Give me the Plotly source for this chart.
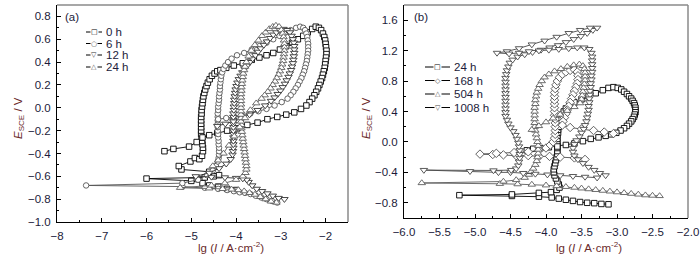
import plotly.graph_objects as go

# ---------------- Panel (a) data: (lg I, E) ----------------
A_0H = [(-4.00,-0.72),(-4.20,-0.71),(-4.40,-0.69),(-4.60,-0.68),(-4.75,-0.66),(-5.00,-0.64),(-6.00,-0.62),
        (-4.70,-0.61),(-4.50,-0.60),(-4.38,-0.59),(-4.60,-0.56),(-5.22,-0.54),(-5.28,-0.51),(-5.02,-0.47),(-4.92,-0.44),
        (-4.82,-0.45),(-4.76,-0.42),(-4.74,-0.38),
        (-4.74,-0.35),(-4.75,-0.32),(-4.76,-0.29),(-4.77,-0.26),(-4.78,-0.23),(-4.78,-0.20),(-4.78,-0.17),(-4.78,-0.14),
        (-4.78,-0.11),(-4.78,-0.08),(-4.77,-0.05),(-4.77,-0.02),(-4.76,0.01),(-4.75,0.04),(-4.74,0.07),(-4.73,0.10),
        (-4.71,0.13),(-4.69,0.16),(-4.66,0.19),(-4.63,0.22),(-4.59,0.25),(-4.54,0.28),(-4.48,0.30),(-4.42,0.32),(-4.35,0.33),
        (-4.22,0.35),(-4.05,0.37),(-3.85,0.39),(-3.65,0.42),(-3.48,0.44),(-3.32,0.46),(-3.17,0.48),(-3.02,0.51),(-2.88,0.54),
        (-2.75,0.57),(-2.62,0.60),(-2.50,0.63),(-2.40,0.66),(-2.30,0.69),(-2.22,0.71),
        (-2.15,0.70),(-2.10,0.68),(-2.06,0.65),(-2.03,0.62),(-2.01,0.59),(-2.00,0.56),(-1.99,0.53),(-1.98,0.50),(-1.98,0.47),
        (-1.99,0.44),(-2.00,0.41),(-2.01,0.38),(-2.02,0.35),(-2.04,0.32),(-2.06,0.29),(-2.08,0.26),(-2.11,0.23),(-2.14,0.20),
        (-2.17,0.17),(-2.21,0.14),(-2.25,0.11),(-2.30,0.08),(-2.36,0.05),(-2.43,0.02),
        (-2.55,-0.01),(-2.70,-0.04),(-2.88,-0.06),(-3.08,-0.08),(-3.30,-0.10),(-3.52,-0.13),(-3.75,-0.15),(-3.98,-0.18),
        (-4.20,-0.20),(-4.42,-0.22),(-4.60,-0.24),(-4.75,-0.26),(-4.88,-0.30),(-5.05,-0.34),(-5.40,-0.36),(-5.60,-0.38)]

A_6H = [(-3.08,-0.83),(-3.20,-0.815),(-3.32,-0.80),(-3.44,-0.785),(-3.56,-0.77),(-3.68,-0.755),(-3.80,-0.745),(-3.92,-0.74),
        (-4.05,-0.73),(-4.20,-0.72),(-4.40,-0.71),(-4.70,-0.70),(-5.20,-0.69),(-7.35,-0.68),
        (-5.20,-0.66),(-4.85,-0.63),(-4.65,-0.59),(-4.52,-0.55),(-4.45,-0.51),(-4.41,-0.47),
        (-4.39,-0.44),(-4.38,-0.41),(-4.38,-0.38),(-4.38,-0.35),(-4.39,-0.32),(-4.39,-0.29),(-4.40,-0.26),(-4.40,-0.23),
        (-4.41,-0.20),(-4.41,-0.17),(-4.41,-0.14),(-4.41,-0.11),(-4.41,-0.08),(-4.41,-0.05),(-4.40,-0.02),(-4.40,0.01),
        (-4.39,0.04),(-4.38,0.07),(-4.38,0.10),(-4.37,0.13),(-4.36,0.16),(-4.36,0.19),(-4.35,0.22),(-4.34,0.25),(-4.33,0.28),
        (-4.31,0.31),(-4.28,0.34),(-4.24,0.37),(-4.18,0.40),(-4.10,0.43),
        (-3.98,0.46),(-3.82,0.48),(-3.65,0.51),(-3.48,0.54),(-3.32,0.57),(-3.17,0.60),(-3.03,0.63),(-2.90,0.66),(-2.78,0.68),
        (-2.66,0.70),(-2.57,0.71),
        (-2.50,0.70),(-2.46,0.68),(-2.43,0.65),(-2.41,0.62),(-2.40,0.59),(-2.39,0.56),(-2.39,0.53),(-2.39,0.50),(-2.40,0.47),
        (-2.41,0.44),(-2.42,0.41),(-2.44,0.38),(-2.46,0.35),(-2.48,0.32),(-2.51,0.29),(-2.54,0.26),(-2.58,0.23),(-2.62,0.20),
        (-2.67,0.17),(-2.72,0.14),(-2.78,0.11),(-2.85,0.08),
        (-2.98,0.05),(-3.14,0.02),(-3.32,-0.01),(-3.50,-0.03),(-3.68,-0.05),(-3.86,-0.07),(-4.04,-0.08),(-4.22,-0.09),(-4.40,-0.10)]

A_12H = [(-2.92,-0.80),(-3.05,-0.79),(-3.18,-0.77),(-3.30,-0.75),(-3.42,-0.73),(-3.54,-0.71),(-3.64,-0.68),(-3.72,-0.65),
         (-3.76,-0.63),(-3.85,-0.62),(-4.00,-0.615),(-4.25,-0.61),(-4.55,-0.605),(-4.90,-0.60),
         (-4.60,-0.57),(-4.38,-0.53),(-4.22,-0.49),(-4.12,-0.45),(-4.08,-0.41),
         (-4.07,-0.38),(-4.06,-0.35),(-4.06,-0.32),(-4.06,-0.29),(-4.06,-0.26),(-4.06,-0.23),(-4.06,-0.20),(-4.06,-0.17),
         (-4.06,-0.14),(-4.06,-0.11),(-4.06,-0.08),(-4.06,-0.05),(-4.05,-0.02),(-4.05,0.01),(-4.04,0.04),(-4.04,0.07),
         (-4.03,0.10),(-4.02,0.13),(-4.01,0.16),(-3.99,0.19),(-3.97,0.22),(-3.94,0.25),(-3.90,0.28),(-3.86,0.31),(-3.81,0.34),
         (-3.75,0.37),(-3.69,0.40),(-3.63,0.43),(-3.57,0.46),(-3.51,0.49),(-3.45,0.52),(-3.38,0.55),(-3.31,0.58),(-3.24,0.61),
         (-3.17,0.64),(-3.10,0.66),(-3.02,0.68),(-2.94,0.69),
         (-2.86,0.68),(-2.80,0.66),(-2.76,0.63),(-2.73,0.60),(-2.71,0.57),(-2.70,0.54),(-2.70,0.51),(-2.70,0.48),(-2.71,0.45),
         (-2.72,0.42),(-2.73,0.39),(-2.75,0.36),(-2.77,0.33),(-2.80,0.30),(-2.83,0.27),(-2.87,0.24),(-2.91,0.21),(-2.96,0.18),
         (-3.01,0.15),(-3.07,0.12),(-3.14,0.09),(-3.22,0.06),
         (-3.35,0.02),(-3.52,-0.02),(-3.70,-0.06),(-3.88,-0.09),(-4.06,-0.12),(-4.24,-0.14),(-4.42,-0.16)]

A_24H = [(-3.10,-0.83),(-3.22,-0.82),(-3.34,-0.80),(-3.46,-0.78),(-3.58,-0.76),(-3.70,-0.745),(-3.82,-0.73),(-3.95,-0.72),
         (-4.10,-0.715),(-4.30,-0.71),(-4.60,-0.705),(-5.25,-0.70),
         (-4.55,-0.68),(-4.25,-0.66),(-4.00,-0.63),(-3.85,-0.60),(-3.79,-0.57),(-3.77,-0.54),
         (-3.77,-0.51),(-3.78,-0.48),(-3.79,-0.45),(-3.80,-0.42),(-3.81,-0.39),(-3.82,-0.36),(-3.83,-0.33),(-3.84,-0.30),
         (-3.85,-0.27),(-3.86,-0.24),(-3.87,-0.21),(-3.88,-0.18),(-3.88,-0.15),(-3.89,-0.12),(-3.89,-0.09),(-3.89,-0.06),
         (-3.89,-0.03),(-3.89,0.00),(-3.89,0.03),(-3.89,0.06),(-3.89,0.09),(-3.89,0.12),(-3.88,0.15),(-3.88,0.18),(-3.87,0.21),
         (-3.86,0.24),(-3.85,0.27),(-3.84,0.30),(-3.82,0.33),(-3.80,0.36),(-3.77,0.40),(-3.72,0.45),(-3.66,0.50),(-3.58,0.55),
         (-3.50,0.59),(-3.42,0.63),(-3.34,0.66),(-3.26,0.69),(-3.18,0.71),(-3.11,0.72),
         (-3.04,0.71),(-2.99,0.68),(-2.96,0.65),(-2.94,0.62),(-2.93,0.59),(-2.92,0.56),(-2.92,0.53),(-2.92,0.50),(-2.93,0.47),
         (-2.94,0.44),(-2.95,0.41),(-2.97,0.38),(-2.99,0.35),(-3.02,0.32),(-3.05,0.29),(-3.09,0.26),(-3.13,0.23),(-3.18,0.20),
         (-3.23,0.17),(-3.29,0.14),(-3.36,0.11),(-3.43,0.08),
         (-3.55,0.04),(-3.68,-0.02),(-3.80,-0.09),(-3.92,-0.17),(-4.04,-0.25),(-4.16,-0.33),(-4.28,-0.40),(-4.40,-0.46),(-4.52,-0.51)]

# ---------------- Panel (b) data ----------------
B_24H = [(-3.12,-0.82),(-3.22,-0.815),(-3.32,-0.805),(-3.42,-0.80),(-3.52,-0.79),(-3.62,-0.775),(-3.72,-0.76),(-3.82,-0.745),
         (-3.92,-0.73),(-4.10,-0.72),(-4.48,-0.71),(-5.22,-0.70),
         (-4.48,-0.69),(-4.10,-0.67),(-3.93,-0.66),(-3.85,-0.63),(-3.81,-0.60),
         (-3.82,-0.56),(-3.84,-0.52),(-3.86,-0.48),(-3.88,-0.44),(-3.89,-0.40),(-3.89,-0.36),(-3.88,-0.32),(-3.87,-0.28),
         (-3.86,-0.24),(-3.85,-0.20),(-3.84,-0.16),(-3.84,-0.12),(-3.84,-0.08),(-3.84,-0.04),(-3.84,0.00),(-3.84,0.04),
         (-3.84,0.08),(-3.83,0.12),(-3.83,0.16),(-3.82,0.20),(-3.81,0.24),(-3.80,0.28),(-3.79,0.32),(-3.77,0.36),(-3.75,0.40),
         (-3.72,0.44),(-3.67,0.48),(-3.60,0.52),
         (-3.50,0.56),(-3.40,0.60),(-3.30,0.64),(-3.20,0.68),(-3.12,0.71),
         (-3.05,0.72),(-2.99,0.71),(-2.94,0.69),(-2.90,0.66),(-2.86,0.63),(-2.83,0.60),(-2.80,0.57),(-2.78,0.54),(-2.76,0.51),
         (-2.75,0.48),(-2.74,0.45),(-2.74,0.42),(-2.74,0.39),(-2.75,0.36),(-2.76,0.33),(-2.78,0.30),(-2.80,0.27),(-2.83,0.24),
         (-2.86,0.21),(-2.90,0.18),(-2.95,0.15),(-3.01,0.12),(-3.08,0.10),(-3.16,0.08),
         (-3.26,0.06),(-3.37,0.04),(-3.48,0.01),(-3.60,-0.02),(-3.72,-0.04),(-3.84,-0.06),(-3.96,-0.07),(-4.08,-0.08),
         (-4.18,-0.09),(-4.27,-0.11)]

B_168H = [(-3.45,-0.23),(-3.60,-0.21),(-3.80,-0.20),(-3.95,-0.19),(-4.10,-0.19),(-4.25,-0.18),(-4.42,-0.18),(-4.60,-0.17),
          (-4.75,-0.165),(-4.93,-0.16),
          (-4.70,-0.15),(-4.45,-0.14),(-4.25,-0.13),(-4.10,-0.11),(-4.00,-0.08),(-3.94,-0.04),
          (-3.90,0.00),(-3.88,0.05),(-3.87,0.10),(-3.87,0.15),(-3.87,0.20),(-3.87,0.25),(-3.87,0.30),(-3.88,0.35),(-3.88,0.40),
          (-3.88,0.45),(-3.88,0.50),(-3.88,0.55),(-3.88,0.60),(-3.88,0.65),(-3.87,0.70),(-3.86,0.75),(-3.84,0.80),(-3.81,0.85),
          (-3.77,0.89),(-3.72,0.92),(-3.66,0.94),(-3.60,0.95),
          (-3.56,0.92),(-3.55,0.87),(-3.55,0.82),(-3.56,0.77),(-3.58,0.72),(-3.60,0.67),(-3.62,0.62),(-3.64,0.57),(-3.66,0.52),
          (-3.68,0.47),(-3.70,0.42),(-3.72,0.37),(-3.74,0.32),(-3.76,0.27),(-3.77,0.22),
          (-3.66,0.19),(-3.50,0.17),(-3.33,0.15),(-3.18,0.13),(-3.05,0.11)]

B_504H = [(-2.40,-0.71),(-2.50,-0.705),(-2.60,-0.70),(-2.70,-0.69),(-2.80,-0.68),(-2.90,-0.67),(-3.00,-0.66),(-3.10,-0.65),
          (-3.20,-0.64),(-3.30,-0.63),(-3.40,-0.62),(-3.50,-0.61),(-3.60,-0.60),(-3.72,-0.59),(-3.85,-0.58),(-4.00,-0.57),
          (-4.20,-0.56),(-4.40,-0.555),(-4.65,-0.55),(-5.75,-0.54),
          (-4.60,-0.52),(-4.42,-0.50),(-4.30,-0.47),(-4.24,-0.43),(-4.21,-0.39),
          (-4.18,-0.35),(-4.15,-0.30),(-4.13,-0.25),(-4.12,-0.20),(-4.11,-0.15),(-4.11,-0.10),(-4.11,-0.05),(-4.12,0.00),
          (-4.13,0.05),(-4.14,0.10),(-4.15,0.15),(-4.16,0.20),(-4.16,0.25),(-4.16,0.30),(-4.16,0.35),(-4.16,0.40),(-4.16,0.45),
          (-4.15,0.50),(-4.15,0.55),(-4.14,0.60),(-4.13,0.65),(-4.11,0.70),(-4.09,0.75),(-4.06,0.80),(-4.02,0.85),(-3.96,0.89),
          (-3.88,0.93),(-3.79,0.96),(-3.70,0.99),(-3.61,1.01),(-3.53,1.02),
          (-3.48,1.00),(-3.46,0.96),(-3.45,0.91),(-3.45,0.86),(-3.45,0.81),(-3.46,0.76),(-3.47,0.71),(-3.48,0.66),(-3.49,0.61),
          (-3.50,0.56),(-3.52,0.51),
          (-3.60,0.46),(-3.70,0.41),(-3.80,0.36),(-3.90,0.31),(-4.00,0.26),(-4.10,0.21),(-4.20,0.16)]

B_1008H = [(-3.28,-0.47),(-3.45,-0.46),(-3.62,-0.45),(-3.80,-0.44),(-3.98,-0.43),(-4.15,-0.42),(-4.32,-0.41),(-4.50,-0.40),
           (-4.67,-0.40),(-5.07,-0.385),(-5.72,-0.37),
           (-4.74,-0.375),(-4.49,-0.37),(-4.42,-0.35),
           (-4.39,-0.31),(-4.38,-0.26),(-4.37,-0.21),(-4.37,-0.16),(-4.37,-0.11),(-4.38,-0.06),(-4.39,-0.01),(-4.41,0.04),
           (-4.43,0.09),(-4.46,0.14),(-4.50,0.19),(-4.53,0.24),(-4.55,0.29),(-4.57,0.34),(-4.57,0.39),(-4.57,0.44),(-4.57,0.49),
           (-4.57,0.54),(-4.57,0.59),(-4.57,0.64),(-4.57,0.69),(-4.57,0.74),(-4.57,0.79),(-4.57,0.84),(-4.56,0.89),(-4.55,0.94),
           (-4.53,0.99),(-4.51,1.04),(-4.47,1.08),
           (-4.40,1.12),(-4.30,1.15),(-4.19,1.18),(-4.07,1.21),(-3.95,1.24),(-3.83,1.27),(-3.72,1.31),(-3.61,1.35),(-3.51,1.39),
           (-3.42,1.43),(-3.34,1.47),(-3.28,1.50),
           (-3.38,1.50),(-3.52,1.47),(-3.68,1.43),(-3.85,1.38),(-4.02,1.33),(-4.20,1.28),(-4.38,1.23),(-4.55,1.19),(-4.69,1.17),
           (-4.52,1.16),(-4.38,1.17),(-4.24,1.19),(-4.10,1.20),(-3.96,1.21),(-3.82,1.22),(-3.68,1.23),(-3.56,1.24),(-3.46,1.24),
           (-3.39,1.22),
           (-3.36,1.17),(-3.35,1.12),(-3.35,1.07),(-3.35,1.02),(-3.35,0.97),(-3.35,0.92),(-3.36,0.87),(-3.36,0.82),(-3.37,0.77),
           (-3.37,0.72),(-3.38,0.67),(-3.38,0.62),(-3.39,0.57),(-3.39,0.52),(-3.40,0.47),(-3.40,0.42),(-3.41,0.37),(-3.42,0.32),
           (-3.43,0.27),(-3.45,0.22),(-3.47,0.17),(-3.50,0.12),(-3.53,0.07),(-3.57,0.02),(-3.60,-0.03),(-3.62,-0.08),
           (-3.62,-0.13),(-3.60,-0.18),(-3.55,-0.23),(-3.48,-0.28),(-3.40,-0.33),(-3.32,-0.37),(-3.24,-0.41),(-3.16,-0.44)]

LEGEND_A = ["0 h", "6 h", "12 h", "24 h"]
LEGEND_B = ["24 h", "168 h", "504 h", "1008 h"]

X_TITLE = "lg (<i>I</i> / A·cm<sup>-2</sup>)"
Y_TITLE = "<i>E</i><sub>SCE</sub> / V"

W, H = 700, 257
FONT = "Liberation Sans, Arial, sans-serif"
TICK_COLOR = "#1c1c3a"
TITLE_COLOR = "#6a2a2a"

series_a = [
    (A_0H, LEGEND_A[0], "square", "#000000", 5.5, "□"),
    (A_6H, LEGEND_A[1], "circle", "#555555", 5.5, "○"),
    (A_12H, LEGEND_A[2], "triangle-down", "#333333", 6.5, "▽"),
    (A_24H, LEGEND_A[3], "triangle-up", "#5e5e5e", 6.5, "△"),
]
series_b = [
    (B_24H, LEGEND_B[0], "square", "#000000", 5.5, "□"),
    (B_168H, LEGEND_B[1], "diamond", "#505050", 6.5, "◇"),
    (B_504H, LEGEND_B[2], "triangle-up", "#5e5e5e", 6.5, "△"),
    (B_1008H, LEGEND_B[3], "triangle-down", "#484848", 6.5, "▽"),
]

fig = go.Figure()

def add_series(series, xa, ya):
    for pts, name, sym, col, size, _ in series:
        fig.add_trace(go.Scatter(
            x=[p[0] for p in pts], y=[p[1] for p in pts], name=name,
            mode="lines+markers", xaxis=xa, yaxis=ya, showlegend=False,
            line=dict(color=col, width=0.9),
            marker=dict(symbol=sym, size=size, color="white", line=dict(color=col, width=0.9)),
        ))

add_series(series_a, "x", "y")
add_series(series_b, "x2", "y2")

def px_x(px):
    return px / W

def px_y(py):
    return 1 - py / H

axis_common = dict(showgrid=False, zeroline=False, showline=True, linecolor="black", linewidth=1,
                   ticks="inside", ticklen=4, tickcolor="black", mirror=False, ticklabelstandoff=3,
                   automargin=False,
                   tickfont=dict(family=FONT, size=11.5, color=TICK_COLOR))

fig.update_layout(
    template="none",
    width=W, height=H, margin=dict(l=0, r=0, t=0, b=0, pad=0),
    paper_bgcolor="white", plot_bgcolor="white", showlegend=False,
    xaxis=dict(axis_common, domain=[px_x(57), px_x(348)], range=[-8, -1.5], dtick=1, tick0=-8,
               minor=dict(dtick=0.5, ticks="inside", ticklen=2, tickcolor="black"), anchor="y"),
    yaxis=dict(axis_common, domain=[px_y(222), px_y(5)], range=[-1.0, 0.9], dtick=0.2, tick0=0,
               tickformat=".1f", minor=dict(dtick=0.1, ticks="inside", ticklen=2, tickcolor="black"), anchor="x"),
    xaxis2=dict(axis_common, domain=[px_x(404), px_x(688)], range=[-6, -2], dtick=0.5, tick0=-6,
                tickformat=".1f", minor=dict(dtick=0.25, ticks="inside", ticklen=2, tickcolor="black"), anchor="y2"),
    yaxis2=dict(axis_common, domain=[px_y(218), px_y(5)], range=[-1.0, 1.8], dtick=0.4, tick0=0,
                tickformat=".1f", minor=dict(dtick=0.2, ticks="inside", ticklen=2, tickcolor="black"), anchor="x2"),
)

# gray top/right frame lines
for xd, yd in (("x domain", "y domain"), ("x2 domain", "y2 domain")):
    fig.add_shape(type="line", xref=xd, yref=yd, x0=0, x1=1, y0=1, y1=1, line=dict(color="#8a8a8a", width=1.5))
    fig.add_shape(type="line", xref=xd, yref=yd, x0=1, x1=1, y0=0, y1=1, line=dict(color="#8a8a8a", width=1.5))

ann = []

def text_at(text, px, py, size=11.5, color=TICK_COLOR, xanchor="center", angle=0, family=FONT, **kw):
    ann.append(dict(text=text, x=px_x(px), y=px_y(py), xref="paper", yref="paper", showarrow=False,
                    xanchor=xanchor, yanchor="middle", textangle=angle,
                    font=dict(family=family, size=size, color=color), **kw))

# axis titles
text_at(X_TITLE, 231, 247, color=TITLE_COLOR)
text_at(X_TITLE, 589, 247, color=TITLE_COLOR)
text_at(Y_TITLE, 19, 118, color=TITLE_COLOR, angle=-90)
text_at(Y_TITLE, 367, 118, color=TITLE_COLOR, angle=-90)
# panel labels
text_at("(a)", 63, 17, xanchor="left")
text_at("(b)", 412, 17, xanchor="left")

# manual legends
def legend(series, x0, x1, rows):
    for (pts, name, sym, col, size, glyph), py in zip(series, rows):
        fig.add_shape(type="line", xref="paper", yref="paper", x0=px_x(x0), x1=px_x(x1), y0=px_y(py), y1=px_y(py),
                      line=dict(color="black", width=1))
        text_at(glyph, (x0 + x1) / 2, py, size=7, color=col, family="DejaVu Sans", bgcolor="white", borderpad=0)
        text_at(name, x1 + 2, py, xanchor="left")

legend(series_a, 86, 102, [32, 43.5, 55, 67])
legend(series_b, 425, 450, [67, 80.5, 94, 107.5])

fig.update_layout(annotations=ann)
fig.write_html("out.html")
